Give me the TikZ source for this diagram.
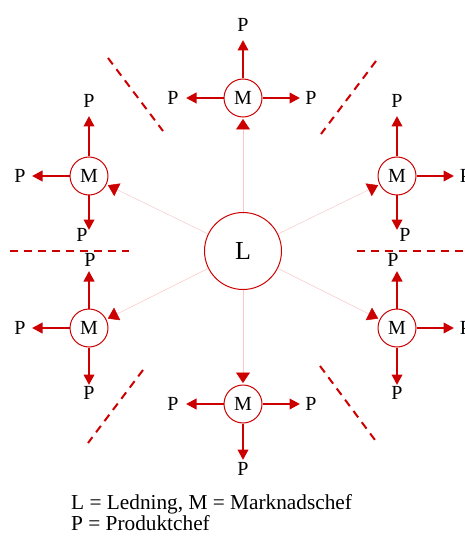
\documentclass[tikz,border=0pt]{standalone}
\usepackage{fontspec}
\setmainfont{Liberation Serif}
\usetikzlibrary{arrows.meta}
\definecolor{rd}{RGB}{204,0,0}
\definecolor{pale}{RGB}{248,200,200}
\begin{document}
\begin{tikzpicture}[x=1pt,y=-1pt,
  mnode/.style={circle,draw=rd,line width=1pt,minimum size=38pt,inner sep=0pt,font=\fontsize{20}{24}\selectfont},
  lnode/.style={circle,draw=rd,line width=1pt,minimum size=77pt,inner sep=0pt,font=\fontsize{26}{30}\selectfont},
  pnode/.style={inner sep=0pt,font=\fontsize{20}{24}\selectfont},
  parr/.style={rd,line width=2.2pt,-{Triangle[length=10.5pt,width=10.5pt]}},
  larr/.style={pale,line width=0.5pt,shorten >=1.5pt,-{Triangle[length=10.5pt,width=14pt,color=rd]}},
  sepline/.style={rd,line width=2pt,dash pattern=on 8pt off 6pt},
  legend/.style={anchor=base west,inner sep=0pt,font=\fontsize{21.3}{25}\selectfont}
]
\useasboundingbox (0,0) rectangle (464,537);

% centre
\node[lnode] (L) at (243,251) {L};

% M nodes
\node[mnode] (Mt)  at (243,98)  {M};
\node[mnode] (Mul) at (89,176)  {M};
\node[mnode] (Mur) at (397,176) {M};
\node[mnode] (Mll) at (89,328)  {M};
\node[mnode] (Mlr) at (397,328) {M};
\node[mnode] (Mb)  at (243,404) {M};

% L to M
\foreach \m in {Mt,Mul,Mur,Mll,Mlr,Mb}
  \draw[larr] (L) -- (\m);

% separators
\coordinate (s1a) at (108,58);  \coordinate (s1b) at (163,131);
\coordinate (s2a) at (376,61);  \coordinate (s2b) at (321,134);
\coordinate (s3a) at (10,251);  \coordinate (s3b) at (129,251);
\coordinate (s4a) at (357,251); \coordinate (s4b) at (466,251);
\coordinate (s5a) at (143,370); \coordinate (s5b) at (88,443);
\coordinate (s6a) at (320,366); \coordinate (s6b) at (375,440);
\draw[sepline] (s1a) -- (s1b);
\draw[sepline] (s2a) -- (s2b);
\draw[sepline] (s3a) -- (s3b);
\draw[sepline] (s4a) -- (s4b);
\draw[sepline] (s5a) -- (s5b);
\draw[sepline] (s6a) -- (s6b);

% top M
\node[pnode] (Pt1) at (243,25)  {P};
\node[pnode] (Pt2) at (173,98)  {P};
\node[pnode] (Pt3) at (311,98)  {P};
\coordinate (tt1) at (243,40);
\coordinate (tt2) at (186,98);
\coordinate (tt3) at (300,98);
\draw[parr] (Mt) -- (tt1);
\draw[parr] (Mt) -- (tt2);
\draw[parr] (Mt) -- (tt3);

% upper left M
\node[pnode] (Pul1) at (89,101) {P};
\node[pnode] (Pul2) at (20,176) {P};
\node[pnode] (Pul3) at (82,235) {P};
\coordinate (tul1) at (89,116);
\coordinate (tul2) at (32,176);
\coordinate (tul3) at (89,230);
\draw[parr] (Mul) -- (tul1);
\draw[parr] (Mul) -- (tul2);
\draw[parr] (Mul) -- (tul3);

% upper right M
\node[pnode] (Pur1) at (397,101) {P};
\node[pnode] (Pur2) at (465.5,176) {P};
\node[pnode] (Pur3) at (405,235) {P};
\coordinate (tur1) at (397,116);
\coordinate (tur2) at (454,176);
\coordinate (tur3) at (397,230);
\draw[parr] (Mur) -- (tur1);
\draw[parr] (Mur) -- (tur2);
\draw[parr] (Mur) -- (tur3);

% lower left M
\node[pnode] (Pll1) at (90,260) {P};
\node[pnode] (Pll2) at (20,328) {P};
\node[pnode] (Pll3) at (89,393) {P};
\coordinate (tll1) at (89,271);
\coordinate (tll2) at (32,328);
\coordinate (tll3) at (89,385);
\draw[parr] (Mll) -- (tll1);
\draw[parr] (Mll) -- (tll2);
\draw[parr] (Mll) -- (tll3);

% lower right M
\node[pnode] (Plr1) at (393,260) {P};
\node[pnode] (Plr2) at (465.5,328) {P};
\node[pnode] (Plr3) at (397,393) {P};
\coordinate (tlr1) at (397,271);
\coordinate (tlr2) at (454,328);
\coordinate (tlr3) at (397,385);
\draw[parr] (Mlr) -- (tlr1);
\draw[parr] (Mlr) -- (tlr2);
\draw[parr] (Mlr) -- (tlr3);

% bottom M
\node[pnode] (Pb1) at (173,404) {P};
\node[pnode] (Pb2) at (311,404) {P};
\node[pnode] (Pb3) at (243,469) {P};
\coordinate (tb1) at (186,404);
\coordinate (tb2) at (300,404);
\coordinate (tb3) at (243,460);
\draw[parr] (Mb) -- (tb1);
\draw[parr] (Mb) -- (tb2);
\draw[parr] (Mb) -- (tb3);

% legend
\node[legend] (leg1) at (71,509) {L = Ledning, M = Marknadschef};
\node[legend] (leg2) at (71,530) {P = Produktchef};
\end{tikzpicture}
\end{document}
